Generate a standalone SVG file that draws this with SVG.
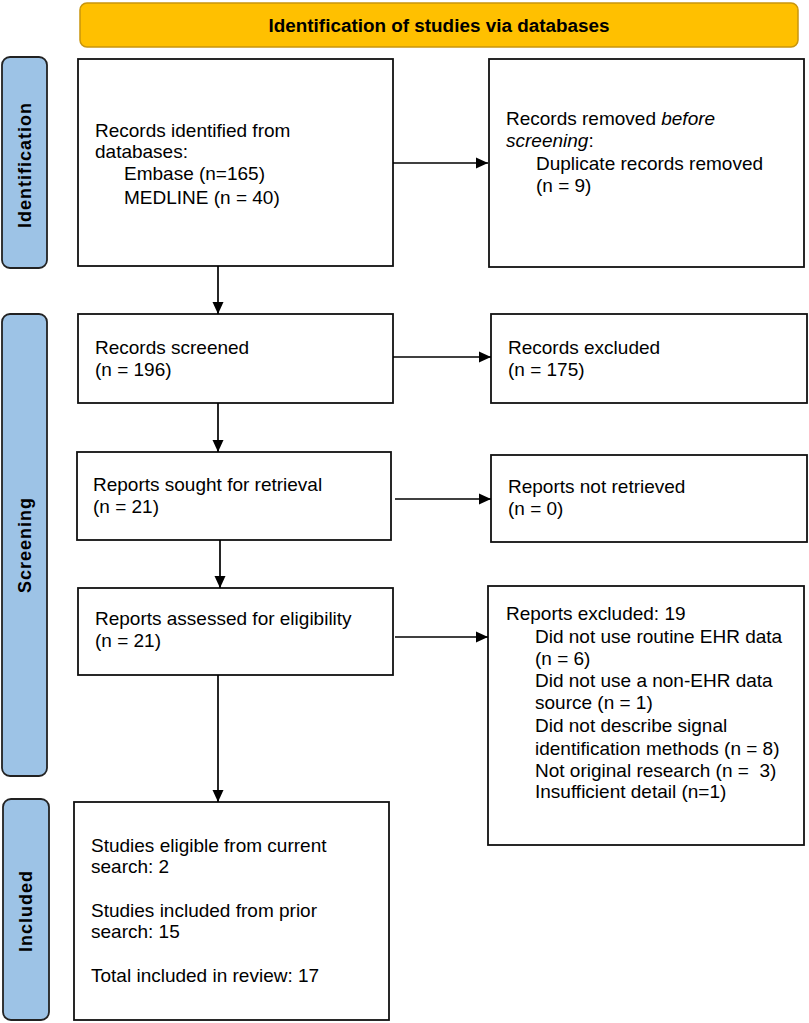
<svg xmlns="http://www.w3.org/2000/svg" width="809" height="1023" viewBox="0 0 809 1023">
<defs>
<style>
.box{fill:#fff;stroke:#111;stroke-width:1.8}
.side{fill:#9DC3E6;stroke:#222;stroke-width:1.8}
.t{font-family:"Liberation Sans",Arial,sans-serif;font-size:19px;fill:#000}
.st{font-family:"Liberation Sans",Arial,sans-serif;font-size:18px;font-weight:bold;letter-spacing:1px;fill:#000}
.conn{stroke:#000;stroke-width:1.7;fill:none;marker-end:url(#ah)}
</style>
<marker id="ah" markerUnits="userSpaceOnUse" markerWidth="13" markerHeight="13" refX="12" refY="6.5" orient="auto">
<path d="M0,1 L12,6.5 L0,12 Z" fill="#000"/>
</marker>
</defs>
<rect width="809" height="1023" fill="#fff"/>

<g id="banner">
<rect x="80" y="3" width="718" height="44" rx="7" fill="#FFC000" stroke="#C9950C" stroke-width="1.5"/>
<text x="439" y="31.5" text-anchor="middle" font-family="'Liberation Sans',Arial,sans-serif" font-size="18" font-weight="bold" textLength="341" lengthAdjust="spacingAndGlyphs">Identification of studies via databases</text>
</g>

<g id="label-identification">
<rect class="side" x="2" y="57" width="45" height="211" rx="8"/>
<text class="st" transform="translate(31,165) rotate(-90)" text-anchor="middle">Identification</text>
</g>
<g id="label-screening">
<rect class="side" x="2" y="314" width="45" height="462" rx="8"/>
<text class="st" transform="translate(31,545) rotate(-90)" text-anchor="middle">Screening</text>
</g>
<g id="label-included">
<rect class="side" x="3" y="799" width="46" height="221" rx="8"/>
<text class="st" transform="translate(32,911) rotate(-90)" text-anchor="middle">Included</text>
</g>

<g id="records-identified">
<rect class="box" x="78" y="59" width="315" height="207"/>
<text class="t" x="95" y="137">Records identified from</text>
<text class="t" x="95" y="158">databases:</text>
<text class="t" x="124" y="180">Embase (n=165)</text>
<text class="t" x="124" y="204">MEDLINE (n = 40)</text>
</g>

<g id="records-removed">
<rect class="box" x="489" y="59" width="315" height="208"/>
<text class="t" x="506" y="125">Records removed <tspan font-style="italic">before</tspan></text>
<text class="t" x="506" y="147"><tspan font-style="italic">screening</tspan>:</text>
<text class="t" x="536" y="170">Duplicate records removed</text>
<text class="t" x="536" y="192">(n = 9)</text>
</g>

<g id="records-screened">
<rect class="box" x="78" y="314" width="315" height="89"/>
<text class="t" x="95" y="354">Records screened</text>
<text class="t" x="95" y="376">(n = 196)</text>
</g>

<g id="records-excluded">
<rect class="box" x="491" y="314" width="316" height="89"/>
<text class="t" x="508" y="354">Records excluded</text>
<text class="t" x="508" y="376">(n = 175)</text>
</g>

<g id="reports-sought">
<rect class="box" x="77" y="452" width="314" height="88"/>
<text class="t" x="93" y="491">Reports sought for retrieval</text>
<text class="t" x="93" y="513">(n = 21)</text>
</g>

<g id="reports-not-retrieved">
<rect class="box" x="491" y="455" width="316" height="87"/>
<text class="t" x="508" y="493">Reports not retrieved</text>
<text class="t" x="508" y="515">(n = 0)</text>
</g>

<g id="reports-assessed">
<rect class="box" x="78" y="588" width="315" height="87"/>
<text class="t" x="95" y="625">Reports assessed for eligibility</text>
<text class="t" x="95" y="647">(n = 21)</text>
</g>

<g id="reports-excluded">
<rect class="box" x="488" y="586" width="316" height="259"/>
<text class="t" x="506" y="620">Reports excluded: 19</text>
<text class="t" x="535" y="643">Did not use routine EHR data</text>
<text class="t" x="535" y="665">(n = 6)</text>
<text class="t" x="535" y="687">Did not use a non-EHR data</text>
<text class="t" x="535" y="709">source (n = 1)</text>
<text class="t" x="535" y="732">Did not describe signal</text>
<text class="t" x="535" y="755">identification methods (n = 8)</text>
<text class="t" x="535" y="777" xml:space="preserve">Not original research (n =  3)</text>
<text class="t" x="535" y="798">Insufficient detail (n=1)</text>
</g>

<g id="studies-included">
<rect class="box" x="74" y="802" width="315" height="218"/>
<text class="t" x="91" y="852">Studies eligible from current</text>
<text class="t" x="91" y="873">search: 2</text>
<text class="t" x="91" y="917">Studies included from prior</text>
<text class="t" x="91" y="938">search: 15</text>
<text class="t" x="91" y="982">Total included in review: 17</text>
</g>

<g id="connectors">
<line class="conn" x1="393" y1="163" x2="488" y2="163"/>
<line class="conn" x1="218" y1="266" x2="218" y2="314"/>
<line class="conn" x1="393" y1="357" x2="491" y2="357"/>
<line class="conn" x1="218" y1="403" x2="218" y2="452"/>
<line class="conn" x1="395" y1="499" x2="491" y2="499"/>
<line class="conn" x1="220" y1="540" x2="220" y2="588"/>
<line class="conn" x1="395" y1="637" x2="488" y2="637"/>
<line class="conn" x1="218" y1="675" x2="218" y2="802"/>
</g>
</svg>
